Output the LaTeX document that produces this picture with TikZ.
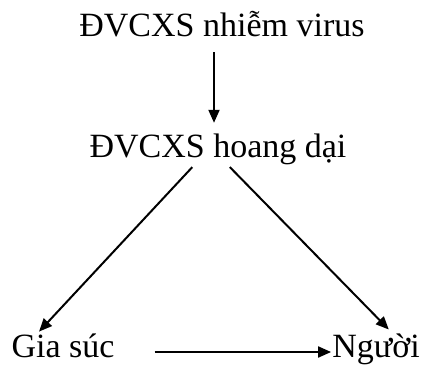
\documentclass[tikz,border=0pt]{standalone}
\usepackage{fontspec}
\setmainfont{Liberation Serif}
\usetikzlibrary{arrows.meta}

\begin{document}
\begin{tikzpicture}[
    x=1pt, y=1pt,
    label_text/.style={font=\fontsize{34}{40}\selectfont, inner sep=0pt,
        text height=23pt, text depth=7pt, anchor=base},
    flow/.style={draw=black, line width=2pt, -{Triangle[length=13pt, width=11pt]}}
]
\useasboundingbox (0,0) rectangle (423,365);

% ----------------------------------------------------------
% Knoten
% ----------------------------------------------------------
\node[label_text] (src)   at (222,328) {ĐVCXS nhiễm virus};
\node[label_text] (wild)  at (218,208) {ĐVCXS hoang dại};
\node[label_text] (stock) at (63,8)    {Gia súc};
\node[label_text] (human) at (376,8)   {Người};

% ----------------------------------------------------------
% Pfeile
% ----------------------------------------------------------
\draw[flow, shorten <=8pt, shorten >=11pt]
    ([xshift=-8pt]src.south) -- ([xshift=-8pt]src.south |- wild.north);
\draw[flow, shorten <=4pt, shorten >=3pt]
    ([xshift=-23pt]wild.south) -- ([xshift=-26pt]stock.north);
\draw[flow, shorten <=4pt, shorten >=6pt]
    ([xshift=9pt]wild.south) -- ([xshift=17pt]human.north);
\draw[flow, shorten <=40pt, shorten >=1pt]
    ([yshift=-3pt]stock.east) -- ([yshift=-3pt]human.west);

\end{tikzpicture}
\end{document}
